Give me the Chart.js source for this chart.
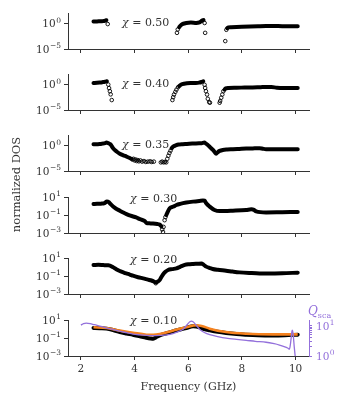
<!DOCTYPE html>
<html><head><meta charset="utf-8">
<script src="https://cdn.jsdelivr.net/npm/chart.js@4.4.0/dist/chart.umd.min.js"></script>
<style>
html,body{margin:0;padding:0;background:#fff;}
#wrap{position:relative;width:350px;height:400px;overflow:hidden;background:#fff;}
#wrap canvas{position:absolute;left:0;top:0;}
</style></head><body>
<div id="wrap">
<canvas id="c0" width="350" height="400"></canvas>
<canvas id="c1" width="350" height="400"></canvas>
<canvas id="c2" width="350" height="400"></canvas>
<canvas id="c3" width="350" height="400"></canvas>
<canvas id="c4" width="350" height="400"></canvas>
<canvas id="c5" width="350" height="400"></canvas>
</div>
<script>
// ---------- data ----------
const chiValues = ['0.50', '0.40', '0.35', '0.30', '0.20', '0.10'];
const xTicks = [2, 4, 6, 8, 10];
const xTickLabels = ['2', '4', '6', '8', '10'];
const yTicksWide = [1e-5, 1];
const yExpWide = ['−5', '0'];
const yTicksNarrow = [1e-3, 1e-1, 10];
const yExpNarrow = ['−3', '−1', '1'];
const qTicks = [1, 2, 3, 4, 5, 6, 7, 8, 9, 10];
const qLabelTicks = [1, 10];
const qExp = ['0', '1'];

// chi = 0.50
const f050Line = [2.47, 2.6, 2.7, 2.8, 2.9, 2.95, 4.3, 5.66, 5.71, 5.8, 5.93, 6.1, 6.3, 6.42, 6.52, 6.57, 7.0, 7.45, 7.5, 7.6, 7.8, 8.0, 8.3, 8.6, 8.9, 9.2, 9.5, 9.8, 10.08];
const dos050Line = [2.5, 2.6, 2.8, 3.0, 3.6, 4.5, null, 0.19, 0.4, 0.86, 1.35, 1.6, 1.35, 1.8, 3.8, 5.0, null, 0.12, 0.18, 0.2, 0.22, 0.24, 0.27, 0.3, 0.33, 0.34, 0.3, 0.3, 0.3];
const f050Dots = [3.0, 5.58, 5.61, 6.61, 6.63, 7.38, 7.42];
const dos050Dots = [0.8, 0.015, 0.07, 1.3, 0.015, 3.6e-4, 0.06];

// chi = 0.40
const f040Line = [2.47, 2.6, 2.7, 2.8, 2.9, 2.97, 4.3, 5.66, 5.74, 5.85, 5.95, 6.1, 6.25, 6.4, 6.5, 6.56, 7.0, 7.35, 7.4, 7.5, 7.8, 8.1, 8.4, 8.7, 8.9, 9.1, 9.3, 9.5, 9.8, 10.08];
const dos040Line = [2.0, 2.3, 2.6, 3.0, 3.6, 4.5, null, 0.5, 1.0, 1.5, 1.8, 2.0, 2.1, 2.4, 3.2, 4.5, null, 0.1, 0.18, 0.22, 0.24, 0.26, 0.28, 0.31, 0.33, 0.32, 0.25, 0.22, 0.22, 0.22];
const f040Dots = [3.02, 3.05, 3.08, 3.11, 3.15, 5.41, 5.44, 5.47, 5.52, 5.56, 5.62, 6.61, 6.63, 6.66, 6.7, 6.73, 6.78, 6.81, 7.17, 7.19, 7.23, 7.27, 7.31];
const dos040Dots = [1.0, 0.2, 0.05, 0.012, 9e-4, 9e-4, 3.4e-3, 0.011, 0.037, 0.1, 0.3, 0.9, 0.22, 0.05, 0.011, 1.6e-3, 3.5e-4, 2.7e-4, 2.7e-4, 6e-4, 2.6e-3, 0.011, 0.05];

// chi = 0.35
const f035Line = [2.47, 2.6, 2.7, 2.8, 2.9, 2.95, 3.02, 3.1, 3.2, 3.33, 3.45, 3.58, 3.7, 3.8, 3.88, 4.6, 5.38, 5.45, 5.52, 5.64, 5.8, 5.95, 6.15, 6.4, 6.5, 6.6, 6.66, 6.73, 6.82, 6.92, 6.99, 7.04, 7.1, 7.17, 7.29, 7.45, 7.67, 7.9, 8.16, 8.4, 8.66, 8.78, 8.9, 9.2, 9.6, 10.08];
const dos035Line = [1.8, 1.9, 2.0, 2.4, 3.0, 3.8, 3.0, 1.8, 0.3, 0.07, 0.025, 0.012, 0.007, 0.004, 0.0025, null, 0.3, 0.7, 1.0, 1.6, 1.9, 2.1, 2.5, 2.8, 3.0, 3.8, 2.5, 1.3, 0.45, 0.14, 0.05, 0.025, 0.05, 0.09, 0.14, 0.17, 0.19, 0.22, 0.26, 0.28, 0.3, 0.24, 0.2, 0.19, 0.19, 0.19];
const f035Dots = [3.92, 3.96, 4.0, 4.04, 4.08, 4.12, 4.16, 4.22, 4.28, 4.35, 4.42, 4.5, 4.58, 4.64, 4.72, 4.98, 5.03, 5.08, 5.13, 5.18, 5.22, 5.26, 5.3, 5.34];
const dos035Dots = [1.8e-3, 2.5e-3, 1.2e-3, 1.8e-3, 9e-4, 1.4e-3, 8e-4, 1.2e-3, 7e-4, 9e-4, 6e-4, 7e-4, 8e-4, 6e-4, 7e-4, 5e-4, 7e-4, 5e-4, 6e-4, 5e-4, 2.5e-3, 0.01, 0.035, 0.1];

// chi = 0.30
const f030Line = [2.47, 2.6, 2.75, 2.88, 2.97, 3.04, 3.1, 3.2, 3.3, 3.45, 3.6, 3.7, 3.85, 4.06, 4.2, 4.37, 4.45, 4.55, 4.69, 4.85, 4.93, 5.0, 5.1, 5.18, 5.31, 5.45, 5.56, 5.7, 5.93, 6.18, 6.42, 6.55, 6.61, 6.67, 6.8, 6.98, 7.17, 7.66, 8.16, 8.35, 8.45, 8.53, 8.9, 9.5, 10.08];
const dos030Line = [1.76, 1.8, 1.9, 2.2, 3.2, 2.8, 1.76, 0.9, 0.55, 0.31, 0.18, 0.13, 0.085, 0.055, 0.035, 0.023, 0.013, 0.012, 0.0115, 0.01, 0.0088, 0.0056, null, 0.1, 0.57, 0.9, 1.35, 1.8, 2.5, 3.2, 3.85, 4.2, 4.0, 2.1, 0.88, 0.37, 0.28, 0.31, 0.37, 0.44, 0.38, 0.26, 0.2, 0.21, 0.22];
const f030Dots = [5.03, 5.06, 5.08, 5.12, 5.15];
const dos030Dots = [2.5e-3, 1.3e-3, 4.8e-3, 0.027, 0.06];

// chi = 0.20
const f020Line = [2.47, 2.65, 2.83, 3.0, 3.08, 3.2, 3.32, 3.45, 3.57, 3.69, 3.82, 3.94, 4.13, 4.32, 4.5, 4.63, 4.72, 4.79, 4.87, 4.94, 5.0, 5.06, 5.15, 5.25, 5.4, 5.56, 5.7, 5.87, 6.0, 6.18, 6.35, 6.49, 6.58, 6.67, 6.8, 6.91, 7.1, 7.41, 7.65, 7.91, 8.3, 8.66, 9.0, 9.5, 10.08];
const dos020Line = [1.76, 1.8, 1.7, 1.6, 1.5, 0.96, 0.6, 0.37, 0.27, 0.2, 0.15, 0.11, 0.075, 0.055, 0.04, 0.032, 0.025, 0.019, 0.025, 0.038, 0.08, 0.15, 0.3, 0.48, 0.6, 0.74, 1.1, 1.76, 2.1, 2.3, 2.4, 2.5, 1.8, 1.14, 0.8, 0.62, 0.5, 0.4, 0.32, 0.26, 0.22, 0.2, 0.2, 0.21, 0.24];
const f020Dots = [4.79];
const dos020Dots = [0.016];

// chi = 0.10
const f010Line = [2.47, 2.7, 2.95, 3.2, 3.45, 3.7, 3.94, 4.2, 4.44, 4.6, 4.69, 4.75, 4.81, 4.94, 5.2, 5.43, 5.7, 5.93, 6.18, 6.3, 6.42, 6.6, 6.8, 7.1, 7.41, 7.8, 8.16, 8.6, 9.15, 9.6, 10.08];
const dos010Line = [1.36, 1.25, 1.14, 0.8, 0.48, 0.33, 0.24, 0.16, 0.11, 0.09, 0.084, 0.1, 0.13, 0.2, 0.35, 0.57, 0.9, 1.36, 2.1, 2.0, 1.6, 1.0, 0.74, 0.5, 0.37, 0.28, 0.24, 0.21, 0.2, 0.21, 0.24];
const f010Fit = [2.47, 2.95, 3.45, 3.94, 4.44, 4.7, 4.94, 5.43, 5.93, 6.3, 6.5, 6.8, 7.41, 8.16, 9.15, 10.08];
const dos010Fit = [1.6, 1.35, 0.68, 0.4, 0.24, 0.23, 0.28, 0.68, 1.6, 2.7, 2.3, 1.14, 0.48, 0.31, 0.26, 0.26];
const fQsca = [2.0, 2.1, 2.2, 2.35, 2.5, 2.75, 2.95, 3.2, 3.45, 3.7, 3.94, 4.2, 4.44, 4.7, 4.94, 5.2, 5.43, 5.65, 5.81, 5.92, 6.0, 6.06, 6.12, 6.18, 6.24, 6.32, 6.42, 6.6, 6.8, 7.1, 7.41, 7.8, 8.16, 8.5, 8.9, 9.2, 9.4, 9.6, 9.72, 9.77, 9.8, 9.83, 9.86, 9.88, 9.9, 9.92, 9.95, 9.98, 10.0];
const qsca = [10.5, 11.8, 12.3, 11.8, 10.8, 9.5, 8.5, 7.5, 6.6, 5.9, 5.3, 5.0, 4.8, 4.7, 4.8, 5.0, 5.5, 6.5, 7.7, 9.8, 12, 13.5, 14.2, 13.5, 12, 9.8, 7.7, 6.0, 5.1, 4.4, 3.9, 3.55, 3.3, 3.05, 2.85, 2.55, 2.3, 2.0, 1.8, 1.7, 2.2, 3.6, 6.2, 7.1, 6.0, 4.2, 2.0, 1.1, 0.7];

// ---------- styling / layout ----------
const SERIF = "'DejaVu Serif', serif";
const AX = '#333';
const PURPLE = '#9370DB';
const ORANGE = '#f5821f';
const X_MIN = 1.52, X_MAX = 10.5;
const panelTop = [13, 74, 135, 197, 258, 320];
const PANEL_H = 36;
const CHI_POS = [[54, 10.5], [54, 10], [54, 10.5], [62, 2.5], [62, 2.5], [62, 1.5]];

function pts(fs, vs) { return fs.map((f, i) => ({ x: f, y: vs[i] })); }

function lineDs(fs, vs) {
  return { data: pts(fs, vs), showLine: true, borderColor: '#000', borderWidth: 4,
    pointRadius: 0, cubicInterpolationMode: 'monotone', borderCapStyle: 'round',
    borderJoinStyle: 'round', spanGaps: false, yAxisID: 'y', order: 3 };
}
function dotDs(fs, vs) {
  return { data: pts(fs, vs), showLine: false, pointRadius: 1.8, pointBorderWidth: 0.9,
    pointBorderColor: '#000', pointBackgroundColor: 'rgba(255,255,255,0)', yAxisID: 'y', order: 2 };
}

function yAxis(min, max, ticks) {
  return {
    type: 'logarithmic', position: 'left', min: min, max: max,
    afterBuildTicks: s => { s.ticks = ticks.map(v => ({ value: v })); },
    afterFit: s => { s.width = 68; },
    ticks: { autoSkip: false, padding: 3, color: AX, font: { family: SERIF, size: 10 },
      callback: () => '' },
    grid: { drawOnChartArea: false, drawTicks: true, tickLength: 4, color: AX, lineWidth: 1 },
    border: { display: true, color: AX, width: 1 }
  };
}
function xAxis(isBottom, xh) {
  return {
    type: 'linear', position: 'bottom', min: X_MIN, max: X_MAX,
    afterBuildTicks: s => { s.ticks = xTicks.map(v => ({ value: v })); },
    afterFit: s => { s.height = xh; },
    ticks: { display: isBottom, autoSkip: false, maxRotation: 0, padding: 3, color: AX,
      font: { family: SERIF, size: 10.5 }, callback: (v, i) => xTickLabels[i] },
    grid: { drawOnChartArea: false, drawTicks: true, tickLength: 4, color: AX, lineWidth: 1 },
    border: { display: true, color: AX, width: 1 },
    title: { display: isBottom, text: 'Frequency (GHz)', color: AX,
      font: { family: SERIF, size: 11 }, padding: { top: 2, bottom: 6 } }
  };
}

// draws "10" with a raised exponent
function powLabel(ctx, xEdge, y, exp, color, alignRight) {
  ctx.fillStyle = color;
  ctx.textBaseline = 'alphabetic';
  ctx.textAlign = 'left';
  ctx.font = '10.5px ' + SERIF;
  const wb = ctx.measureText('10').width;
  ctx.font = '7.5px ' + SERIF;
  const we = ctx.measureText(exp).width;
  const x0 = alignRight ? xEdge - wb - we - 0.5 : xEdge;
  ctx.font = '10.5px ' + SERIF;
  ctx.fillText('10', x0, y + 3.8);
  ctx.font = '7.5px ' + SERIF;
  ctx.fillText(exp, x0 + wb + 0.5, y - 0.8);
}

const textPlugin = {
  id: 'txt',
  afterDraw(chart, args, o) {
    const ctx = chart.ctx, a = chart.chartArea;
    ctx.save();
    // y tick labels
    const ys = chart.scales.y;
    o.yTicks.forEach((v, k) => {
      powLabel(ctx, ys.right - 7, ys.getPixelForValue(v), o.yExp[k], AX, true);
    });
    if (chart.scales.q) {
      const qs = chart.scales.q;
      qLabelTicks.forEach((v, k) => {
        powLabel(ctx, qs.left + 7, qs.getPixelForValue(v), qExp[k], PURPLE, false);
      });
    }
    ctx.fillStyle = AX;
    ctx.textBaseline = 'middle';
    ctx.textAlign = 'left';
    const x = a.left + o.pos[0], y = a.top + o.pos[1];
    ctx.font = 'italic 11px ' + SERIF;
    ctx.fillText('χ', x, y);
    const w = ctx.measureText('χ').width;
    ctx.font = '11px ' + SERIF;
    ctx.fillText(' = ' + o.chi, x + w, y);
    if (o.ylabel) {
      ctx.save();
      ctx.translate(17.5, 184.5);
      ctx.rotate(-Math.PI / 2);
      ctx.textAlign = 'center';
      ctx.font = '11.5px ' + SERIF;
      ctx.fillText('normalized DOS', 0, 0);
      ctx.restore();
    }
    if (o.qlabel) {
      ctx.fillStyle = PURPLE;
      ctx.font = 'italic 12px ' + SERIF;
      const qx = a.right - 1, qy = a.top - 8;
      ctx.fillText('Q', qx, qy);
      const qw = ctx.measureText('Q').width;
      ctx.font = '8px ' + SERIF;
      ctx.fillText('sca', qx + qw, qy + 3.5);
    }
    ctx.restore();
  }
};

const panels = [
  { line: [f050Line, dos050Line], dots: [f050Dots, dos050Dots], wide: true },
  { line: [f040Line, dos040Line], dots: [f040Dots, dos040Dots], wide: true },
  { line: [f035Line, dos035Line], dots: [f035Dots, dos035Dots], wide: true },
  { line: [f030Line, dos030Line], dots: [f030Dots, dos030Dots], wide: false },
  { line: [f020Line, dos020Line], dots: [f020Dots, dos020Dots], wide: false },
  { line: [f010Line, dos010Line], dots: null, wide: false, bottom: true }
];

panels.forEach((p, i) => {
  const top = panelTop[i];
  const xh = p.bottom ? 44 : 14;
  const datasets = [lineDs(p.line[0], p.line[1])];
  if (p.dots) datasets.push(dotDs(p.dots[0], p.dots[1]));
  const yT = p.wide ? yTicksWide : yTicksNarrow;
  const yE = p.wide ? yExpWide : yExpNarrow;
  const scales = {
    x: xAxis(!!p.bottom, xh),
    y: p.wide ? yAxis(1e-5, 120, yT) : yAxis(1e-3, 10.5, yT)
  };
  if (p.bottom) {
    datasets.push({ data: pts(f010Fit, dos010Fit), showLine: true, borderColor: ORANGE, borderWidth: 2.6,
      pointRadius: 0, cubicInterpolationMode: 'monotone', yAxisID: 'y', order: 1 });
    datasets.push({ data: pts(fQsca, qsca), showLine: true, borderColor: PURPLE, borderWidth: 1.3,
      pointRadius: 0, tension: 0.3, yAxisID: 'q', order: 0 });
    scales.q = {
      type: 'logarithmic', position: 'right', min: 1, max: 15.5,
      afterBuildTicks: s => { s.ticks = qTicks.map(v => ({ value: v })); },
      afterFit: s => { s.width = 41; },
      ticks: { autoSkip: false, padding: 3, color: PURPLE, font: { family: SERIF, size: 10 },
        callback: () => '' },
      grid: { drawOnChartArea: false, drawTicks: true, tickLength: 3, color: PURPLE, lineWidth: 1 },
      border: { display: true, color: PURPLE, width: 1 }
    };
  }
  new Chart(document.getElementById('c' + i), {
    type: 'scatter',
    data: { datasets: datasets },
    options: {
      responsive: false, animation: false, devicePixelRatio: 1,
      layout: { padding: { top: top, bottom: 400 - top - PANEL_H - xh, left: 0, right: p.bottom ? 0 : 41 } },
      plugins: { legend: { display: false }, tooltip: { enabled: false },
        txt: { chi: chiValues[i], pos: CHI_POS[i], ylabel: i === 0, qlabel: !!p.bottom, yTicks: yT, yExp: yE } },
      scales: scales
    },
    plugins: [textPlugin]
  });
});
</script>
</body></html>
